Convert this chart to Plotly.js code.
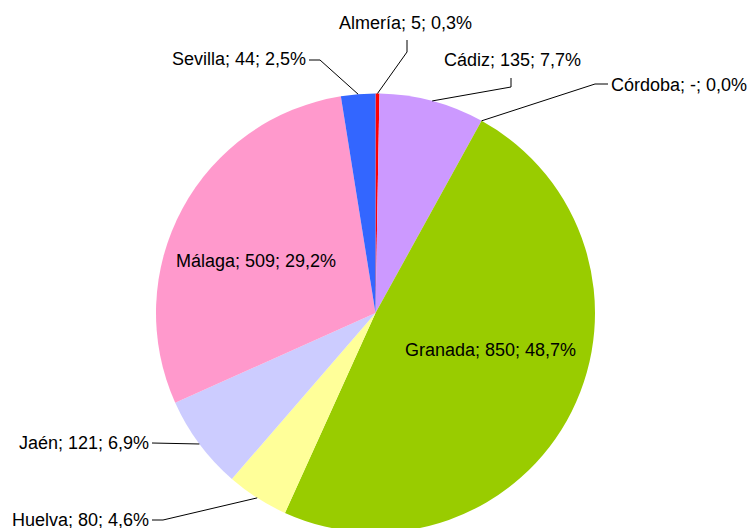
<!DOCTYPE html>
<html>
<head>
<meta charset="utf-8">
<script src="https://cdn.plot.ly/plotly-3.0.1.min.js"></script>
<style>
html, body { margin: 0; padding: 0; overflow: hidden; background: #ffffff; }
#chart { width: 749px; height: 628px; }
</style>
</head>
<body>
<div id="chart"></div>
<script>
// ---- Data ----
const provinces = ['Almería', 'Cádiz', 'Córdoba', 'Granada', 'Huelva', 'Jaén', 'Málaga', 'Sevilla'];
const counts = [5, 135, 0, 850, 80, 121, 509, 44];
const countLabels = ['5', '135', '-', '850', '80', '121', '509', '44'];

// ---- Style ----
const sliceColors = ['#ff0000', '#cc99ff', '#ff8080', '#99cc00', '#ffff99', '#ccccff', '#ff99cc', '#3366ff'];
const W = 749, H = 628;
const pieLeft = 156, pieRight = 595, pieTop = 93.5, pieBottom = 532.5;
const cx = (pieLeft + pieRight) / 2, cy = (pieTop + pieBottom) / 2, R = (pieRight - pieLeft) / 2;

// label placement (pixel layout of leader lines and text), per province
const labelLayout = {
  'Almería': { pts: [[407, 52], [407, 40]], text: [406, 23], anchor: 'center' },
  'Cádiz':   { pts: [[511, 87], [511, 78]], text: [512, 60], anchor: 'center' },
  'Córdoba': { pts: [[595, 84], [608, 84]], text: [609, 85], anchor: 'left' },
  'Granada': { inside: true, text: [490.5, 350], anchor: 'center' },
  'Huelva':  { pts: [[163, 520], [152, 520]], text: [151, 520], anchor: 'right' },
  'Jaén':    { pts: [[152, 443]], text: [151, 443], anchor: 'right' },
  'Málaga':  { inside: true, text: [256, 261], anchor: 'center' },
  'Sevilla': { pts: [[320, 60], [309, 60]], text: [308, 59], anchor: 'right' }
};

const total = counts.reduce((a, b) => a + b, 0);
const pct = counts.map(v => (v / total * 100).toFixed(1).replace('.', ','));
const fullLabels = provinces.map((p, i) => p + '; ' + countLabels[i] + '; ' + pct[i] + '%');

const px = x => x / W;
const py = y => 1 - y / H;

const annotations = [];
const shapes = [];
let cum = 0;
provinces.forEach((p, i) => {
  const mid = (cum + counts[i] / 2) / total * 2 * Math.PI;
  cum += counts[i];
  const L = labelLayout[p];
  if (!L.inside) {
    const ax = cx + R * Math.sin(mid), ay = cy - R * Math.cos(mid);
    const allPts = [[ax, ay]].concat(L.pts);
    const path = allPts.map((q, k) => (k === 0 ? 'M ' : 'L ') + px(q[0]) + ' ' + py(q[1])).join(' ');
    shapes.push({ type: 'path', xref: 'paper', yref: 'paper', path: path,
      line: { color: '#000000', width: 1 } });
  }
  annotations.push({
    xref: 'paper', yref: 'paper', x: px(L.text[0]), y: py(L.text[1]),
    xanchor: L.anchor, yanchor: 'middle', showarrow: false,
    text: fullLabels[i],
    font: { family: 'Liberation Sans, Arial, sans-serif', size: 18, color: '#000000' }
  });
});

const trace = {
  type: 'pie',
  labels: provinces,
  values: counts,
  sort: false,
  direction: 'clockwise',
  rotation: 0,
  textinfo: 'none',
  hoverinfo: 'skip',
  marker: { colors: sliceColors, line: { width: 0 } },
  domain: { x: [pieLeft / W, pieRight / W], y: [1 - pieBottom / H, 1 - pieTop / H] }
};

const layout = {
  width: W, height: H,
  margin: { l: 0, r: 0, t: 0, b: 0, pad: 0 },
  paper_bgcolor: '#ffffff',
  plot_bgcolor: '#ffffff',
  showlegend: false,
  hovermode: false,
  shapes: shapes,
  annotations: annotations,
  font: { family: 'Liberation Sans, Arial, sans-serif', size: 18, color: '#000000' }
};

Plotly.newPlot('chart', [trace], layout, { displayModeBar: false, staticPlot: true });
</script>
</body>
</html>
